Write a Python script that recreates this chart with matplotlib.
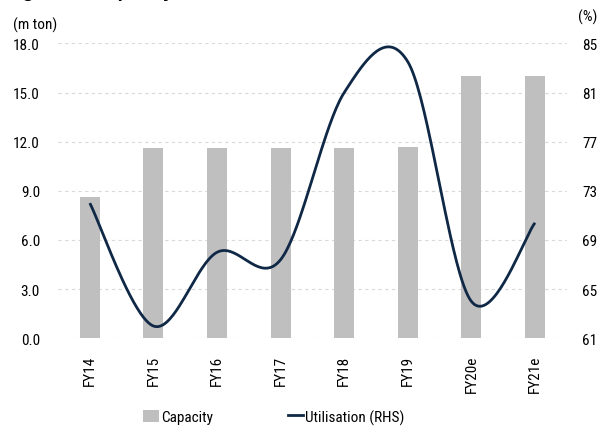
import numpy as np
import matplotlib
matplotlib.use("Agg")
import matplotlib.pyplot as plt
from matplotlib.patches import Patch
from matplotlib.lines import Line2D

categories = ["FY14", "FY15", "FY16", "FY17", "FY18", "FY19", "FY20e", "FY21e"]
capacity = [8.6, 11.6, 11.6, 11.6, 11.6, 11.7, 16.0, 16.0]
utilisation = [72.0, 62.0, 68.0, 67.4, 81.0, 83.5, 64.0, 70.4]
left_ticks = [0.0, 3.0, 6.0, 9.0, 12.0, 15.0, 18.0]
right_ticks = [61, 65, 69, 73, 77, 81, 85]

plt.rcParams['font.family'] = ['Roboto Condensed', 'Liberation Sans', 'DejaVu Sans']

fig = plt.figure(figsize=(6.05, 4.35), dpi=100)
ax = fig.add_axes([0.0959, 0.22, 0.841, 0.678])
ax2 = ax.twinx()

x = np.arange(len(categories))
ax.bar(x, capacity, width=0.315, color="#bfbfbf", zorder=2)
ax.set_xlim(-0.5, len(categories) - 0.5)
ax.set_ylim(0, 18)
ax.set_yticks(left_ticks)
ax.set_yticklabels([f"{v:.1f}" for v in left_ticks])
ax.yaxis.grid(True, linestyle=(0, (3, 3)), color="#d9d9d9", linewidth=0.8)
ax.set_axisbelow(True)
ax.set_xticks(x)
ax.set_xticklabels(categories, rotation=90)

# Excel-like smoothed line (Bezier through points)
px = x.astype(float)
py = np.array(utilisation, dtype=float)
n = len(px)
xs, ys = [], []
t = np.linspace(0, 1, 40)
for i in range(n - 1):
    p0 = np.array([px[i], py[i]])
    p3 = np.array([px[i + 1], py[i + 1]])
    prev = np.array([px[i - 1], py[i - 1]]) if i > 0 else p0
    nxt = np.array([px[i + 2], py[i + 2]]) if i + 2 < n else p3
    c1 = p0 + (p3 - prev) / 6.0
    c2 = p3 - (nxt - p0) / 6.0
    seg = ((1 - t) ** 3)[:, None] * p0 + (3 * (1 - t) ** 2 * t)[:, None] * c1 \
        + (3 * (1 - t) * t ** 2)[:, None] * c2 + (t ** 3)[:, None] * p3
    xs.extend(seg[:, 0]); ys.extend(seg[:, 1])
ax2.plot(xs, ys, color="#0f2846", linewidth=2.0, zorder=3, solid_capstyle="butt")
ax2.set_ylim(61, 85)
ax2.set_yticks(right_ticks)
ax2.set_yticklabels([str(v) for v in right_ticks])

for a in (ax, ax2):
    for s in a.spines.values():
        s.set_visible(False)
    a.tick_params(length=0, labelsize=11, colors="#000000")
ax.tick_params(axis='y', pad=13)
ax.tick_params(axis='x', pad=12)
ax2.tick_params(axis='y', pad=11)

fig.text(13 / 605, 1 - 25 / 435, "(m ton)", fontsize=11, va="center", ha="left")
fig.text(597 / 605, 1 - 17 / 435, "(%)", fontsize=11, va="center", ha="right")
fig.text(5 / 605, 1 + 8 / 435, "Figure 3: Capacity and utilisation", fontsize=14,
         fontweight="bold", family=['Liberation Sans', 'DejaVu Sans'], va="center", ha="left")

handles = [Patch(facecolor="#bfbfbf", edgecolor="none"),
           Line2D([0], [0], color="#0f2846", linewidth=2.0)]
fig.legend(handles, ["Capacity", "Utilisation (RHS)"], loc="center",
           bbox_to_anchor=(274 / 605, 1 - 418 / 435), ncol=2, frameon=False,
           fontsize=11, handlelength=1.0, handletextpad=0.15, columnspacing=4.9,
           handleheight=0.9)

fig.savefig("out.png", dpi=100)
